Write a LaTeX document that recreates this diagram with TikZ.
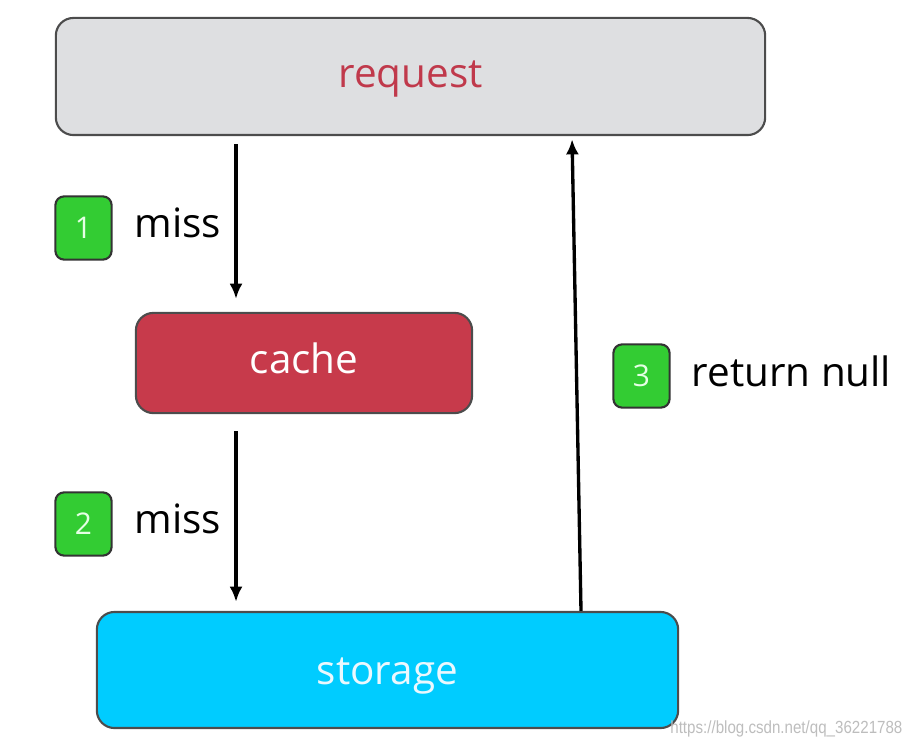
\documentclass[tikz,border=0pt]{standalone}
\usepackage{fontspec}
\setmainfont{Open Sans}
\newfontfamily\markfont{Liberation Sans}
\usepackage{xcolor}
\usetikzlibrary{arrows.meta}

\definecolor{reqgray}{HTML}{DEDFE1}
\definecolor{reqred}{HTML}{C0394B}
\definecolor{cachered}{HTML}{C73A4B}
\definecolor{storblue}{HTML}{00CCFF}
\definecolor{badgegreen}{HTML}{33CC33}
\definecolor{markgray}{HTML}{BDBDBD}

\tikzset{
	box/.style={draw=black!70, line width=0.6pt, rounded corners=5pt, inner sep=0pt,
		text height=6pt, text depth=0pt, font=\fontsize{11.5}{14}\selectfont},
	badge/.style={draw=black!80, line width=0.6pt, fill=badgegreen, rounded corners=2.5pt,
		minimum width=16pt, minimum height=18pt, inner sep=0pt,
		text=green!10, font=\fontsize{8.5}{10}\selectfont},
	lbl/.style={anchor=west, inner sep=0pt, text height=6pt, text depth=0pt,
		font=\fontsize{11.5}{14}\selectfont},
	flow/.style={-{Latex[length=4.3pt,width=3.7pt]}, line width=0.95pt}
}

\begin{document}
\begin{tikzpicture}[x=0.01cm,y=-0.01cm]
		\useasboundingbox (0,0) rectangle (913,746);
		
		% boxes
		\node[box, fill=reqgray, text=reqred, minimum width=201.7pt, minimum height=33.3pt]
			(request) at (410.5,76.5) {request};
		\node[box, fill=cachered, text=white, minimum width=95.6pt, minimum height=28.5pt]
			(cache) at (304,363) {cache};
		\node[box, fill=storblue, text=cyan!8, minimum width=165.3pt, minimum height=33pt]
			(storage) at (387.5,670) {};
		\node[inner sep=0pt, text height=6pt, text depth=0pt, text=cyan!8,
			font=\fontsize{11.5}{14}\selectfont] (stortext) at (387.5,674) {storage};
		
		% arrow columns
		\coordinate (colA) at (236,0);
		\coordinate (colUp) at (581,0);
		\coordinate (colTop) at (572,0);
		
		\draw[flow, shorten <=2.3pt, shorten >=3.7pt] (request.south -| colA) -- (cache.north -| colA);
		\draw[flow, shorten <=4.8pt, shorten >=2.6pt] (cache.south -| colA) -- (storage.north -| colA);
		\draw[flow, shorten >=0.9pt] (storage.north -| colUp) -- (request.south -| colTop);
		
		% steps
		\node[badge] (b1) at (83.5,228) {1};
		\node[lbl] (m1) at (134,227) {miss};
		\node[badge] (b2) at (83.5,524) {2};
		\node[lbl] (m2) at (134,523) {miss};
		\node[badge] (b3) at (641.5,376) {3};
		\node[lbl] (m3) at (691,376) {return null};
		
		\node[anchor=base east, text=markgray, inner sep=0pt, xscale=0.86,
			font=\fontsize{5}{6}\markfont] (mark) at (903,733) {https://blog.csdn.net/qq\_36221788};
	\end{tikzpicture}
\end{document}
